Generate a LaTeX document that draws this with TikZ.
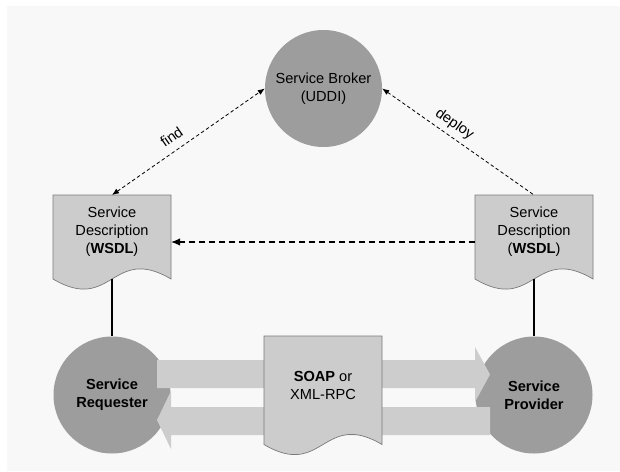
\documentclass[tikz,border=0pt]{standalone}
\usepackage{fontspec}
\setmainfont{Liberation Sans}
\usetikzlibrary{arrows.meta, calc}

\definecolor{papergray}{HTML}{F8F8F8}
\definecolor{rolegray}{HTML}{9D9D9D}
\definecolor{sheetgray}{HTML}{CCCCCC}
\definecolor{edgegray}{HTML}{7A7A7A}
\definecolor{pipegray}{HTML}{CDCDCD}

\tikzset{
  txt/.style={font=\fontsize{14.6}{18}\selectfont, align=center, inner sep=0pt},
  role/.style={txt, circle, fill=rolegray, minimum size=117pt},
  boldrole/.style={role, font=\fontsize{14.6}{18}\selectfont\bfseries},
  sheet/.style={fill=sheetgray, draw=edgegray, line width=0.7pt},
  sheetbox/.style={rectangle, minimum width=118pt, minimum height=84pt, inner sep=0pt, outer sep=0pt},
  pipe/.style={fill=pipegray},
  lookup/.style={dash pattern=on 3.5pt off 2.5pt, line width=0.8pt, >={Latex[length=7pt,width=5.5pt]}},
  tag/.style={txt, text depth=0pt, sloped, above=8pt},
  publish/.style={dash pattern=on 6pt off 4pt, line width=1.4pt, -{Latex[length=9pt,width=7.5pt]}},
  bind/.style={line width=1.3pt},
}

\begin{document}
\begin{tikzpicture}[x=1pt, y=-1pt]
\useasboundingbox (0,0) rectangle (620,471);
\fill[white] (0,0) rectangle (620,471);
\fill[papergray] (7,6) rectangle (620,471);

% the three parties
\node[role] (broker) at (323.5,88.5) {Service Broker\\(UDDI)};
\node[boldrole] (requester) at (112,395) {Service\\Requester};
\node[boldrole] (provider) at (534,395) {Service\\Provider};

% message pipes
\fill[pipe] (157,360) -- (475,360) -- (475,347) -- (490,374.5) -- (475,402) -- (475,388) -- (157,388) -- cycle;
\fill[pipe] (490,407) -- (171,407) -- (171,391) -- (157,420) -- (171,449) -- (171,435) -- (490,435) -- cycle;

% message sheet
\filldraw[sheet] (264,336) -- (382,336) -- (382,444.5) .. controls (323,409.5) and (323,479.5) .. (264,444.5) -- cycle;
\node[txt] (msg) at (323,385) {\textbf{SOAP} or\\XML-RPC};

% service descriptions
\filldraw[sheet] (53,195) -- (171,195) -- (171,279) .. controls (112,244) and (112,314) .. (53,279) -- cycle;
\filldraw[sheet] (475,195) -- (593,195) -- (593,279) .. controls (534,244) and (534,314) .. (475,279) -- cycle;
\node[sheetbox] (ldesc) at (112,237) {};
\node[sheetbox] (rdesc) at (534,237) {};
\node[txt] (ldesc-txt) at (112,231.5) {Service\\Description\\(\textbf{WSDL})};
\node[txt] (rdesc-txt) at (534,231.5) {Service\\Description\\(\textbf{WSDL})};

% connectors
\draw[lookup, <->] (ldesc.north) -- node[tag, pos=0.44] (findlbl) {find} (broker.west);
\draw[lookup, <-] (broker.east) -- node[tag, pos=0.43] (deploylbl) {deploy} (rdesc.north);
\draw[publish] ([yshift=-5pt]rdesc.west) -- ([yshift=-5pt]ldesc.east);
\draw[bind] (ldesc.south) -- (requester.north);
\draw[bind] (rdesc.south) -- (provider.north);
\end{tikzpicture}
\end{document}
